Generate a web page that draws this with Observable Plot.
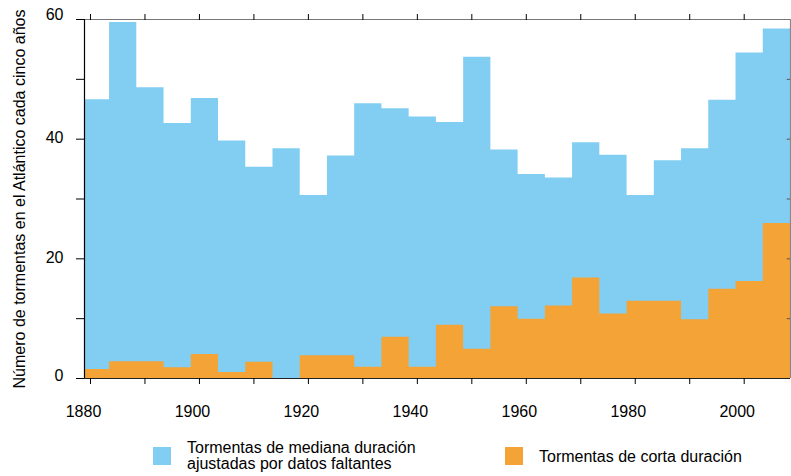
<!DOCTYPE html>
<html>
<head>
<meta charset="utf-8">
<script src="https://cdn.jsdelivr.net/npm/d3@7"></script>
<script src="https://cdn.jsdelivr.net/npm/@observablehq/plot@0.6"></script>
<style>
  html, body { margin: 0; padding: 0; background: #fff; }
  #wrap { position: relative; width: 791px; height: 476px; font-family: "Liberation Sans", Arial, Helvetica, sans-serif; color: #000; }
  #chart svg { display: block; }
  .sw { position: absolute; width: 18px; height: 18px; }
  .lt { position: absolute; font-size: 16px; line-height: 15px; white-space: nowrap; }
</style>
</head>
<body>
<div id="wrap">
  <div id="chart"></div>
</div>
<script>
// Five-year periods (first year of each period)
const periodStart = [1879, 1884, 1889, 1894, 1899, 1904, 1909, 1914, 1919, 1924, 1929, 1934, 1939,
                     1944, 1949, 1954, 1959, 1964, 1969, 1974, 1979, 1984, 1989, 1994, 1999, 2004];
// Tormentas de mediana duración ajustadas por datos faltantes
const mediumAdjusted = [46.6, 59.5, 48.6, 42.6, 46.8, 39.7, 35.3, 38.4, 30.6, 37.2, 45.9, 45.1, 43.7,
                        42.8, 53.7, 38.2, 34.1, 33.5, 39.4, 37.3, 30.6, 36.4, 38.4, 46.5, 54.4, 58.4];
// Tormentas de corta duración
const shortDuration = [1.5, 2.8, 2.8, 1.8, 4.0, 1.0, 2.7, 0, 3.8, 3.8, 1.9, 6.9, 1.9,
                       8.9, 4.9, 12.0, 9.9, 12.1, 16.8, 10.8, 12.9, 12.9, 9.8, 14.9, 16.2, 25.9];
const seriesNames = [["Tormentas de mediana duración", "ajustadas por datos faltantes"], ["Tormentas de corta duración"]];
const seriesColors = ["#82cef2", "#f4a336"];
const xTicks = [1880, 1890, 1900, 1910, 1920, 1930, 1940, 1950, 1960, 1970, 1980, 1990, 2000];
const xTickLabels = [1880, 1900, 1920, 1940, 1960, 1980, 2000];
const yTicks = [0, 10, 20, 30, 40, 50, 60];
const yTickLabels = [0, 20, 40, 60];
const yTitle = "Número de tormentas en el Atlántico cada cinco años";

// step outlines: one point per period start, plus the closing edge of the last period
function steps(values) {
  const pts = periodStart.map((s, i) => ({x: s - 0.5, y: values[i]}));
  pts.push({x: periodStart[periodStart.length - 1] + 4.5, y: values[values.length - 1]});
  return pts;
}
const medium = steps(mediumAdjusted);
const short = steps(shortDuration);

const xMin = 1878.9, xMax = 2008.5;
const font = "Liberation Sans, Arial, Helvetica, sans-serif";

const chart = Plot.plot({
  width: 791,
  height: 432,
  marginLeft: 84,
  marginRight: 1,
  marginTop: 19,
  marginBottom: 54,
  style: {fontFamily: font, fontSize: "16px", color: "#000", background: "#fff"},
  x: {domain: [xMin, xMax], axis: null},
  y: {domain: [0, 60], axis: null},
  marks: [
    Plot.areaY(medium, {x: "x", y: "y", curve: "step-after", fill: seriesColors[0], clip: true}),
    Plot.areaY(short, {x: "x", y: "y", curve: "step-after", fill: seriesColors[1], clip: true}),
    // frame
    Plot.ruleY([60], {stroke: "#777", strokeWidth: 1.2}),
    Plot.ruleX([xMax], {stroke: "#888", strokeWidth: 1.2}),
    Plot.ruleX([xMin], {stroke: "#000", strokeWidth: 1.2}),
    Plot.ruleY([0], {stroke: "#222", strokeWidth: 1.2}),
    // axes ticks
    Plot.axisX({anchor: "bottom", ticks: xTicks, tickSize: 6, tickFormat: () => "", stroke: "#000", label: null}),
    Plot.axisX({anchor: "top", ticks: xTicks, tickSize: 6, tickFormat: () => "", stroke: "#000", label: null}),
    Plot.axisY({anchor: "left", ticks: yTicks, tickSize: 8, tickFormat: () => "", stroke: "#000", label: null}),
    Plot.ruleY(yTicks.filter(d => d > 0 && d < 60), {x1: xMax - 0.6, x2: xMax, stroke: "#555"}),
    // tick labels
    Plot.text(xTickLabels, {x: d => d, text: d => String(d), frameAnchor: "bottom", dy: 33, dx: -7, lineAnchor: "middle", fontSize: 16, fill: "#000"}),
    Plot.text(yTickLabels.filter(d => d > 0 && d < 60), {y: d => d, text: d => String(d), frameAnchor: "left", dx: -21, textAnchor: "end", lineAnchor: "middle", dy: -1, fontSize: 16}),
    Plot.text(yTickLabels.filter(d => d === 0), {y: d => d, text: d => String(d), frameAnchor: "left", dx: -21, textAnchor: "end", lineAnchor: "middle", dy: -3, fontSize: 16}),
    Plot.text(yTickLabels.filter(d => d === 60), {y: d => d, text: d => String(d), frameAnchor: "left", dx: -21, textAnchor: "end", lineAnchor: "middle", dy: -5, fontSize: 16}),
    // y title
    Plot.text([yTitle], {text: d => d, frameAnchor: "left", dx: -65, rotate: -90, textAnchor: "middle", lineAnchor: "middle", fontSize: 16})
  ]
});
document.getElementById("chart").appendChild(chart);

// legend below the svg
const wrap = document.getElementById("wrap");
const legendItems = [
  {lines: seriesNames[0], color: seriesColors[0], sx: 153, tx: 187, ty: 440},
  {lines: seriesNames[1], color: seriesColors[1], sx: 505, tx: 539, ty: 449}
];
legendItems.forEach(it => {
  const sw = document.createElement("div");
  sw.className = "sw";
  sw.style.left = it.sx + "px";
  sw.style.top = "447px";
  sw.style.background = it.color;
  wrap.appendChild(sw);
  it.lines.forEach((line, k) => {
    const t = document.createElement("div");
    t.className = "lt";
    t.style.left = it.tx + "px";
    t.style.top = (it.ty + k * 16) + "px";
    t.textContent = line;
    wrap.appendChild(t);
  });
});
</script>
</body>
</html>
